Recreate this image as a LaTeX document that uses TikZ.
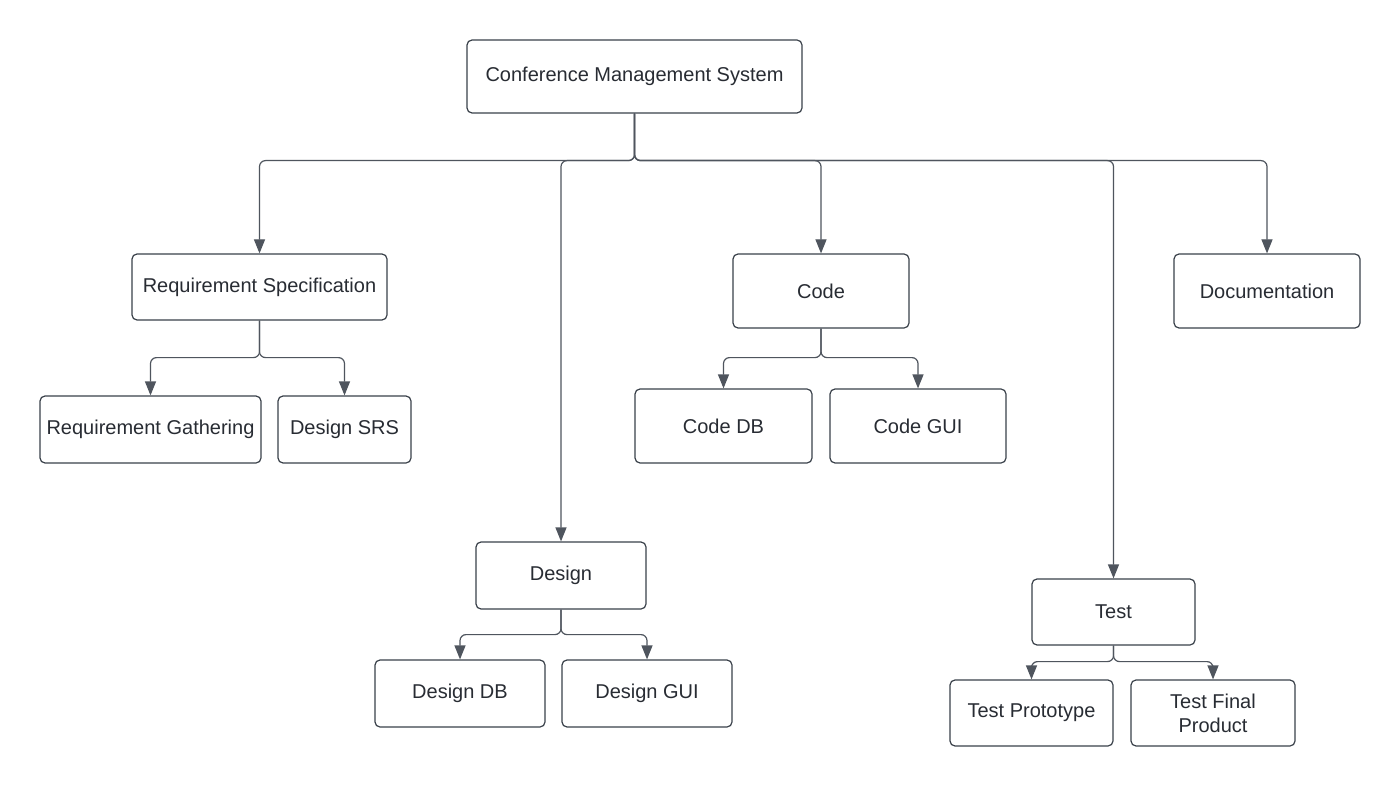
\documentclass[tikz,border=0pt]{standalone}
\usepackage{fontspec}
\setmainfont{Liberation Sans}
\usetikzlibrary{arrows.meta}
\definecolor{edge}{HTML}{3A414A}
\definecolor{txt}{HTML}{282C33}
\definecolor{wire}{HTML}{4F555E}
\tikzset{
  box/.style={draw=edge, line width=1.2pt, rounded corners=5pt, fill=white,
    text=txt, font=\fontsize{20}{24}\selectfont, align=center, inner sep=0pt},
  conn/.style={draw=wire, line width=1.2pt, rounded corners=6pt,
    -{Triangle[length=14pt,width=11pt]}, color=wire},
}
\begin{document}
\begin{tikzpicture}[x=1pt,y=-1pt]
\useasboundingbox (0,0) rectangle (1400,786);
\fill[white] (0,0) rectangle (1400,786);
% level 0
\node[box, minimum width=335pt, minimum height=73pt] (cms) at (634.5,76.5) {Conference Management System};
% level 1
\node[box, minimum width=255pt, minimum height=66pt] (req) at (259.5,287) {Requirement Specification};
\node[box, minimum width=170pt, minimum height=67pt] (des) at (561,575.5) {Design};
\node[box, minimum width=176pt, minimum height=74pt] (code) at (821,291) {Code};
\node[box, minimum width=163pt, minimum height=66pt] (test) at (1113.5,612) {Test};
\node[box, minimum width=186pt, minimum height=74pt] (doc) at (1267,291) {Documentation};
% level 2
\node[box, minimum width=221pt, minimum height=67pt] (rg) at (150.5,429.5) {Requirement Gathering};
\node[box, minimum width=133pt, minimum height=67pt] (srs) at (344.5,429.5) {Design SRS};
\node[box, minimum width=177pt, minimum height=74pt] (cdb) at (723.5,426) {Code DB};
\node[box, minimum width=176pt, minimum height=74pt] (cgui) at (918,426) {Code GUI};
\node[box, minimum width=170pt, minimum height=67pt] (ddb) at (460,693.5) {Design DB};
\node[box, minimum width=170pt, minimum height=67pt] (dgui) at (647,693.5) {Design GUI};
\node[box, minimum width=163pt, minimum height=66pt] (tp) at (1031.5,713) {Test Prototype};
\node[box, minimum width=164pt, minimum height=66pt] (tfp) at (1213,713) {Test Final\\Product};
% connectors from root
\foreach \c in {req,des,code,test,doc}
  \draw[conn] (cms.south) -- ++(0,47) -| (\c.north);
% connectors to level 2
\foreach \c in {rg,srs}
  \draw[conn] (req.south) -- ++(0,37) -| (\c.north);
\foreach \c in {cdb,cgui}
  \draw[conn] (code.south) -- ++(0,29) -| (\c.north);
\foreach \c in {ddb,dgui}
  \draw[conn] (des.south) -- ++(0,25) -| (\c.north);
\foreach \c in {tp,tfp}
  \draw[conn] (test.south) -- ++(0,16) -| (\c.north);
\end{tikzpicture}
\end{document}
